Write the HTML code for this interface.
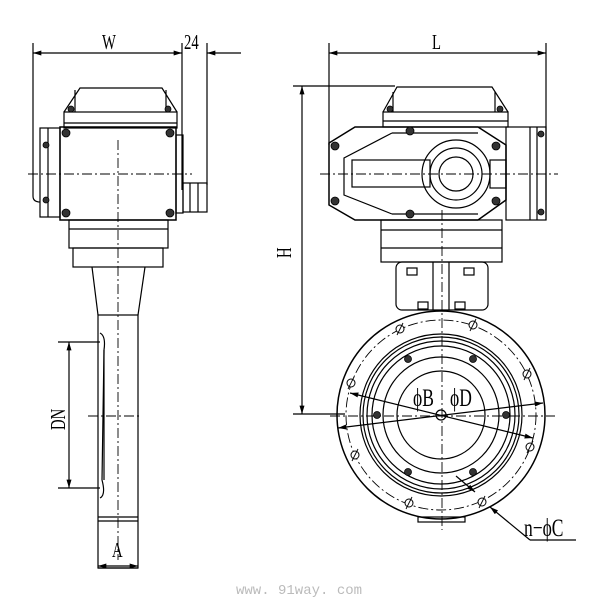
<!DOCTYPE html>
<html><head><style>body{margin:0;background:#fff}svg{display:block}</style></head><body>
<svg width="608" height="603" viewBox="0 0 608 603" xmlns="http://www.w3.org/2000/svg" font-family="Liberation Serif, serif">
<defs>
<marker id="a" viewBox="0 0 10 6" refX="10" refY="3" markerWidth="10" markerHeight="5" orient="auto-start-reverse" markerUnits="userSpaceOnUse"><path d="M0,0L10,3L0,6z" fill="#000"/></marker>
</defs>
<g stroke="#000" stroke-width="1.2" fill="none">
<line x1="33" y1="43" x2="33" y2="196"/><path d="M33,196 Q33,202 40,202"/>
<line x1="182" y1="43" x2="182" y2="190"/>
<line x1="207" y1="43" x2="207" y2="185"/>
<line x1="33" y1="53" x2="182" y2="53" marker-start="url(#a)" marker-end="url(#a)"/>
<line x1="241" y1="53" x2="207" y2="53" marker-end="url(#a)"/>
<path d="M64,112 L80,88 L162,88 L177,112"/>
<line x1="75" y1="90" x2="75" y2="112"/><line x1="166" y1="90" x2="166" y2="112"/>
<rect x="64" y="112" width="113" height="16"/>
<line x1="64" y1="123" x2="177" y2="123"/>
<rect x="60" y="127" width="116" height="93" stroke-width="1.5"/>
<rect x="40" y="128" width="20" height="89"/>
<line x1="48" y1="128" x2="48" y2="217"/>
<rect x="176" y="135" width="7" height="78"/>
<rect x="183" y="183" width="24" height="29"/>
<line x1="190" y1="183" x2="190" y2="212"/><line x1="198" y1="183" x2="198" y2="212"/>
<rect x="69" y="220" width="99" height="28"/>
<line x1="69" y1="229" x2="168" y2="229"/>
<rect x="73" y="248" width="90" height="19"/>
<path d="M92,267 L98,315 M145,267 L138,315"/>
<rect x="98" y="315" width="40" height="253"/>
<line x1="98" y1="517" x2="138" y2="517"/><line x1="98" y1="521" x2="138" y2="521"/>
<path d="M100,333 Q106,336 104,350 L102,480 Q106,495 100,498"/>
<line x1="104" y1="350" x2="104" y2="480"/>
<line x1="58" y1="342" x2="100" y2="342"/><line x1="58" y1="488" x2="100" y2="488"/>
<line x1="69" y1="342" x2="69" y2="488" marker-start="url(#a)" marker-end="url(#a)"/>
<line x1="98" y1="568" x2="138" y2="568"/>
<line x1="118" y1="566" x2="98" y2="566" marker-end="url(#a)"/><line x1="118" y1="566" x2="138" y2="566" marker-end="url(#a)"/>
</g>
<g stroke="#000" stroke-width="0.9" stroke-dasharray="10,3,2,3" fill="none">
<line x1="118" y1="140" x2="118" y2="560"/>
<line x1="28" y1="174" x2="192" y2="174"/>
<line x1="88" y1="416" x2="142" y2="416"/>
<line x1="442" y1="210" x2="442" y2="530"/>
<line x1="320" y1="174" x2="558" y2="174"/>
<line x1="330" y1="416" x2="555" y2="416"/>
<circle cx="441" cy="415" r="95"/>
</g>
<g fill="#333" stroke="#000" stroke-width="0.8">
<circle cx="66" cy="133" r="4"/><circle cx="170" cy="133" r="4"/><circle cx="66" cy="213" r="4"/><circle cx="170" cy="213" r="4"/>
<circle cx="71" cy="109" r="3"/><circle cx="168" cy="109" r="3"/>
<circle cx="46" cy="145" r="3"/><circle cx="46" cy="200" r="3"/>
</g>
<g stroke="#000" stroke-width="1.2" fill="none">
<line x1="329" y1="43" x2="329" y2="145"/><line x1="546" y1="43" x2="546" y2="220"/>
<line x1="329" y1="53" x2="546" y2="53" marker-start="url(#a)" marker-end="url(#a)"/>
<line x1="293" y1="86" x2="395" y2="86"/><line x1="293" y1="414" x2="345" y2="414"/>
<line x1="302" y1="86" x2="302" y2="414" marker-start="url(#a)" marker-end="url(#a)"/>
<path d="M383,112 L397,87 L492,87 L508,112"/>
<line x1="393" y1="92" x2="393" y2="112"/><line x1="495" y1="92" x2="495" y2="112"/>
<rect x="383" y="112" width="125" height="15"/><line x1="383" y1="121" x2="508" y2="121"/>
<path d="M355,127 L478,127 L506,145 L506,200 L478,220 L355,220 L329,205 L329,143 Z" stroke-width="1.5"/>
<path d="M392,133 L344,158 L344,195 L392,214"/>
<line x1="392" y1="133" x2="478" y2="133"/><line x1="392" y1="214" x2="478" y2="214"/>
<rect x="352" y="160" width="78" height="27"/>
<circle cx="456" cy="174" r="34"/><circle cx="456" cy="174" r="26"/><circle cx="456" cy="174" r="17"/>
<rect x="490" y="160" width="16" height="28"/>
<rect x="506" y="127" width="40" height="93"/>
<line x1="530" y1="127" x2="530" y2="220"/><line x1="537" y1="127" x2="537" y2="220"/>
<rect x="381" y="220" width="121" height="42"/>
<line x1="381" y1="230" x2="502" y2="230"/><line x1="381" y1="248" x2="502" y2="248"/>
<rect x="396" y="262" width="92" height="48" rx="6"/>
<line x1="433" y1="262" x2="433" y2="310"/><line x1="449" y1="262" x2="449" y2="310"/>
<rect x="407" y="268" width="10" height="7"/><rect x="464" y="268" width="10" height="7"/>
<rect x="418" y="302" width="10" height="7"/><rect x="455" y="302" width="10" height="7"/>
<circle cx="441" cy="415" r="104" stroke-width="1.5"/>
<circle cx="441" cy="415" r="81"/><circle cx="441" cy="415" r="78"/><circle cx="441" cy="415" r="74"/><circle cx="441" cy="415" r="69"/>
<circle cx="441" cy="415" r="58"/><circle cx="441" cy="415" r="44"/>
<circle cx="441" cy="415" r="5"/>
<rect x="418" y="517" width="47" height="5"/>
<line x1="350" y1="393" x2="533" y2="438" marker-start="url(#a)" marker-end="url(#a)"/>
<line x1="338" y1="428" x2="543" y2="403" marker-start="url(#a)" marker-end="url(#a)"/>
<line x1="456" y1="476" x2="475" y2="492" marker-end="url(#a)"/>
<line x1="530" y1="540" x2="490" y2="507" marker-end="url(#a)"/>
<line x1="530" y1="540" x2="576" y2="540"/>
</g>
<g fill="#fff" stroke="#000" stroke-width="1">
<circle cx="400" cy="329" r="4"/><circle cx="473" cy="325" r="4"/><circle cx="527" cy="374" r="4"/><circle cx="530" cy="447" r="4"/>
<circle cx="482" cy="502" r="4"/><circle cx="409" cy="503" r="4"/><circle cx="355" cy="455" r="4"/><circle cx="351" cy="383" r="4"/>
</g>
<g stroke="#000" stroke-width="0.9">
<line x1="397" y1="335" x2="403" y2="323"/><line x1="470" y1="331" x2="476" y2="319"/><line x1="524" y1="380" x2="530" y2="368"/><line x1="527" y1="453" x2="533" y2="441"/>
<line x1="479" y1="508" x2="485" y2="496"/><line x1="406" y1="509" x2="412" y2="497"/><line x1="352" y1="461" x2="358" y2="449"/><line x1="348" y1="389" x2="354" y2="377"/>
</g>
<g fill="#333" stroke="#000" stroke-width="0.8">
<circle cx="408" cy="359" r="3.5"/><circle cx="473" cy="359" r="3.5"/><circle cx="377" cy="415" r="3.5"/><circle cx="506" cy="415" r="3.5"/><circle cx="408" cy="472" r="3.5"/><circle cx="473" cy="472" r="3.5"/>
<circle cx="410" cy="131" r="4"/><circle cx="410" cy="214" r="4"/><circle cx="335" cy="146" r="4"/><circle cx="335" cy="201" r="4"/><circle cx="496" cy="146" r="4"/><circle cx="496" cy="201" r="4"/>
<circle cx="390" cy="109" r="3"/><circle cx="500" cy="109" r="3"/><circle cx="541" cy="134" r="3"/><circle cx="541" cy="212" r="3"/>
</g>
<g font-size="21" fill="#000">
<text transform="translate(102,49) scale(0.7,1)">W</text>
<text transform="translate(184,49) scale(0.7,1)">24</text>
<text transform="translate(432,49) scale(0.7,1)">L</text>
<text transform="translate(112,557) scale(0.7,1)">A</text>
<text transform="translate(65,430) rotate(-90) scale(0.7,1)">DN</text>
<text transform="translate(291,258) rotate(-90) scale(0.7,1)">H</text>
<text transform="translate(413,406) scale(0.7,1)" font-size="25">ϕB</text>
<text transform="translate(450,406) scale(0.7,1)" font-size="25">ϕD</text>
<text transform="translate(524,536) scale(0.7,1)" font-size="25">n−ϕC</text>
</g>
<text x="236" y="594" font-family="Liberation Mono, monospace" font-size="14" fill="#bbb">www. 91way. com</text>
</svg>
</body></html>
